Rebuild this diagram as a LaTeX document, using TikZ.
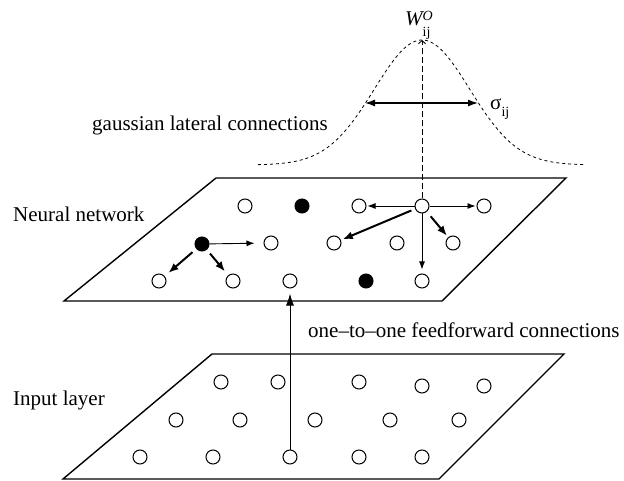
\documentclass[tikz,border=0pt]{standalone}
\usepackage{fontspec}
\setmainfont{Liberation Serif}
\usetikzlibrary{arrows.meta}
\begin{document}
\begin{tikzpicture}[x=1pt,y=-1pt,
  every node/.style={font=\fontsize{21}{25}\selectfont},
  unit/.style={circle,draw,line width=1pt,minimum size=14pt,inner sep=0pt},
  active/.style={unit,fill=black},
  plane/.style={line width=1.4pt,line join=miter},
  thinarr/.style={line width=0.9pt,-{Latex[length=8pt,width=6pt]}},
  thickarr/.style={line width=2pt,-{Latex[length=10pt,width=8pt]}},
  lbl/.style={inner sep=0pt,anchor=base west},
  smallfont/.style={font=\fontsize{14}{14}\selectfont}]
\useasboundingbox (0,0) rectangle (624,481);

% planes
\draw[plane] (212,354) -- (564,354) -- (439,479) -- (63,479) -- cycle;
\draw[plane] (216,178) -- (566,178) -- (442,301) -- (64,301) -- cycle;

% input layer units
\node[unit] (i11) at (221,382) {};
\node[unit] (i12) at (278,382) {};
\node[unit] (i13) at (359,382) {};
\node[unit] (i14) at (422,386) {};
\node[unit] (i15) at (484,386) {};
\node[unit] (i21) at (176,420) {};
\node[unit] (i22) at (240,420) {};
\node[unit] (i23) at (315,420) {};
\node[unit] (i24) at (390,420) {};
\node[unit] (i25) at (459,420) {};
\node[unit] (i31) at (140,457) {};
\node[unit] (i32) at (213,457) {};
\node[unit] (i33) at (290,457) {};
\node[unit] (i34) at (359,457) {};
\node[unit] (i35) at (422,457) {};

% neural network units
\node[unit]   (n11) at (245,206) {};
\node[active] (n12) at (302,206) {};
\node[unit]   (n13) at (359,206) {};
\node[unit]   (n14) at (422,206) {};
\node[unit]   (n15) at (484,206) {};
\node[active] (n21) at (202,244) {};
\node[unit]   (n22) at (271,243) {};
\node[unit]   (n23) at (334,243) {};
\node[unit]   (n24) at (397,243) {};
\node[unit]   (n25) at (453,243) {};
\node[unit]   (n31) at (159,281) {};
\node[unit]   (n32) at (233,281) {};
\node[unit]   (n33) at (290,281) {};
\node[active] (n34) at (366,281) {};
\node[unit]   (n35) at (422,281) {};

% lateral connections
\draw[thinarr, shorten >=9pt] (n21) -- (n22);
\draw[thickarr, shorten <=5pt, shorten >=5pt] (n21) -- (n31);
\draw[thickarr, shorten <=5pt, shorten >=5pt] (n21) -- (n32);
\draw[thinarr, shorten >=1pt] (n14) -- (n13);
\draw[thinarr, shorten >=1pt] (n14) -- (n15);
\draw[thickarr, shorten <=4pt, shorten >=2pt] (n14) -- (n23);
\draw[thickarr, shorten <=6pt, shorten >=2pt] (n14) -- (n25);
\draw[thinarr, shorten >=4pt] (n14) -- (n35);

% feedforward
\draw[line width=1pt,-{Latex[length=12pt,width=8pt]}, shorten >=5pt] (i33) -- (n33);

% gaussian
\draw[dash pattern=on 3pt off 3pt, line width=0.8pt]
  plot[domain=258:585, samples=150] (\x, {165-125*exp(-0.5*((\x-422)/47.7)^2)});
\coordinate (peak) at (422,40);
\draw[dash pattern=on 6pt off 3pt, line width=0.9pt, -{Straight Barb[length=3pt,width=7pt]}] (n14) -- (peak);
\coordinate (sl) at (365,103);
\coordinate (sr) at (478,103);
\draw[line width=1.3pt,{Latex[length=10pt,width=7pt]}-{Latex[length=10pt,width=7pt]}] (sl) -- (sr);

% labels
\node[lbl] (wlab) at (405,26) {\itshape W\raisebox{5pt}{\rlap{\fontsize{14}{14}\selectfont\itshape O}}\raisebox{-11pt}{\fontsize{14}{14}\selectfont\upshape ij}};
\node[lbl] (slab) at (490,110) {σ\raisebox{-7pt}{\fontsize{14}{14}\selectfont ij}};
\node[lbl] (glab) at (92,131) {gaussian lateral connections};
\node[lbl] (nlab) at (13,222) {Neural network};
\node[lbl] (ilab) at (13,405) {Input layer};
\node[lbl] (flab) at (308,337) {one–to–one feedforward connections};
\end{tikzpicture}
\end{document}
